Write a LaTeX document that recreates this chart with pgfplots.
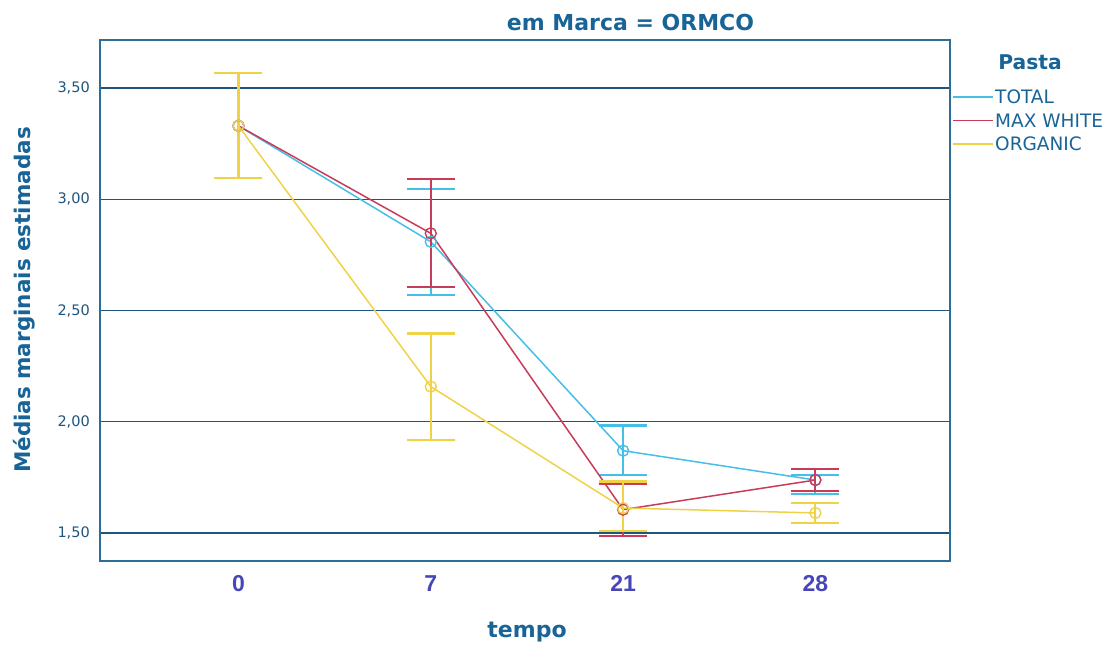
\documentclass[border=0pt]{standalone}
\usepackage{pgfplots}
\pgfplotsset{compat=1.18}
\usepackage{fontspec}
\setmainfont{DejaVu Sans}
\newfontfamily\arialf{Liberation Sans}
\definecolor{ctotal}{RGB}{70,190,232}
\definecolor{cmax}{RGB}{200,60,90}
\definecolor{corg}{RGB}{240,210,70}
\definecolor{caxis}{RGB}{30,85,125}
\definecolor{cbox}{RGB}{45,110,150}
\definecolor{ctext}{RGB}{25,100,150}
\definecolor{cxt}{RGB}{70,70,185}
\pgfplotstableread{
x y ep em
0 3.330 0.237 0.234
1 2.809 0.237 0.239
2 1.870 0.113 0.109
3 1.738 0.023 0.063
}\total
\pgfplotstableread{
x y ep em
0 3.330 0.237 0.234
1 2.847 0.243 0.243
2 1.605 0.115 0.118
3 1.738 0.050 0.049
}\maxwhite
\pgfplotstableread{
x y ep em
0 3.330 0.237 0.234
1 2.158 0.239 0.240
2 1.612 0.119 0.102
3 1.590 0.045 0.045
}\organic
\begin{document}
\begin{tikzpicture}[x=1pt,y=1pt]
\path[use as bounding box] (0,0) rectangle (1111,649);
\begin{axis}[at={(100pt,88pt)}, anchor=south west,
  width=850pt, height=521pt, scale only axis,
  xmin=-0.72, xmax=3.70, ymin=1.374, ymax=3.716,
  xtick={0,1,2,3}, xticklabels={0,7,21,28},
  ytick={1.5,2,2.5,3,3.5},
  /pgf/number format/assume math mode=true,
  /pgf/number format/fixed, /pgf/number format/fixed zerofill,
  /pgf/number format/precision=2, /pgf/number format/use comma,
  major tick length=0pt,
  ymajorgrids, grid style={color=caxis, line width=1.5pt},
  axis line style={color=cbox, line width=1.2pt},
  yticklabel style={font=\fontsize{14.5}{16}\selectfont, text=caxis, anchor=east, inner sep=0pt, xshift=-10pt},
  xticklabel style={font=\fontsize{23}{25}\selectfont\arialf\bfseries, text=cxt, anchor=north, inner sep=0pt, yshift=-14pt},
  clip=false,
]
\addplot[color=ctotal, line width=1.5pt, mark=o, mark size=5.5pt, mark options={line width=1.4pt},
  error bars/.cd, y dir=both, y explicit,
  error bar style={line width=2.2pt, color=ctotal},
  error mark options={rotate=90, mark size=24pt, line width=2.2pt, color=ctotal}]
  table[x=x, y=y, y error plus=ep, y error minus=em] {\total};
\addplot[color=cmax, line width=1.5pt, mark=o, mark size=5.5pt, mark options={line width=1.4pt},
  error bars/.cd, y dir=both, y explicit,
  error bar style={line width=2.2pt, color=cmax},
  error mark options={rotate=90, mark size=24pt, line width=2.2pt, color=cmax}]
  table[x=x, y=y, y error plus=ep, y error minus=em] {\maxwhite};
\addplot[color=corg, line width=1.5pt, mark=o, mark size=5.5pt, mark options={line width=1.4pt},
  error bars/.cd, y dir=both, y explicit,
  error bar style={line width=2.2pt, color=corg},
  error mark options={rotate=90, mark size=24pt, line width=2.2pt, color=corg}]
  table[x=x, y=y, y error plus=ep, y error minus=em] {\organic};
\end{axis}
\node[font=\fontsize{22}{24}\selectfont\bfseries, text=ctext] at (630.5,627) {em Marca = ORMCO};
\node[font=\fontsize{22}{24}\selectfont\bfseries, text=ctext] at (527,17) {tempo};
\node[font=\fontsize{21.5}{23}\selectfont\bfseries, text=ctext, rotate=90] at (24,349) {Médias marginais estimadas};
% legend
\node[font=\fontsize{20.3}{22}\selectfont\bfseries, text=ctext] at (1030,587) {Pasta};
\draw[ctotal, line width=1.8pt] (953,552) -- (993,552);
\node[anchor=west, inner sep=0pt, font=\fontsize{18.5}{20}\selectfont, text=ctext] at (995,552) {TOTAL};
\draw[cmax, line width=1.8pt] (953,528.5) -- (993,528.5);
\node[anchor=west, inner sep=0pt, font=\fontsize{18.5}{20}\selectfont, text=ctext] at (995,528.5) {MAX WHITE};
\draw[corg, line width=1.8pt] (953,505) -- (993,505);
\node[anchor=west, inner sep=0pt, font=\fontsize{18.5}{20}\selectfont, text=ctext] at (995,505) {ORGANIC};
\end{tikzpicture}
\end{document}
